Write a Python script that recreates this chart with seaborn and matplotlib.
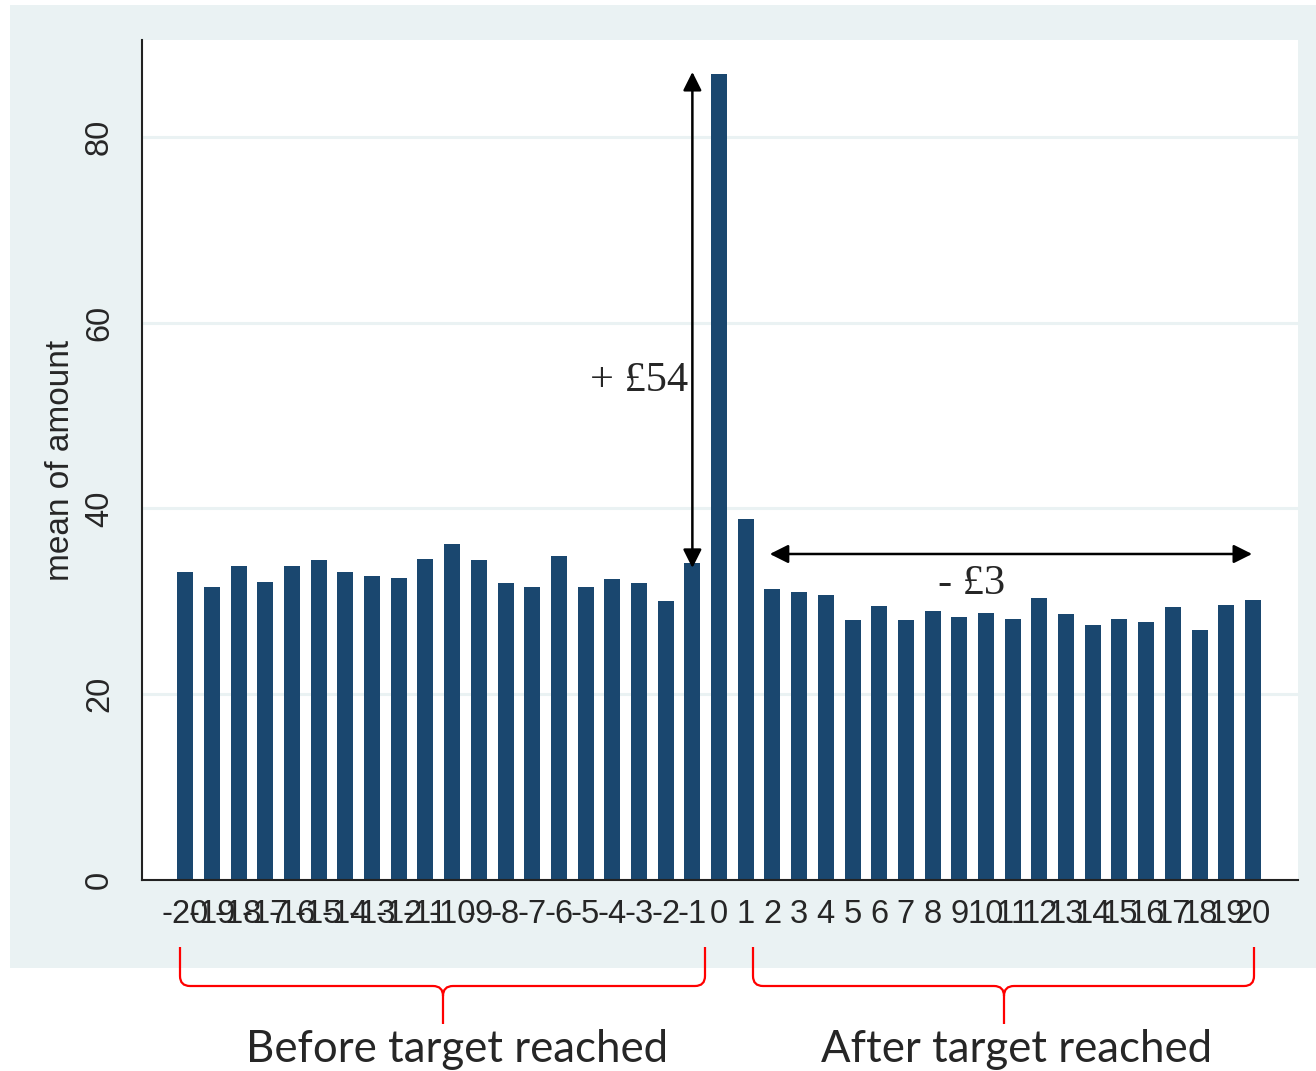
import pandas as pd
import matplotlib.pyplot as plt
import seaborn as sns
from matplotlib.patches import Rectangle, PathPatch
from matplotlib.path import Path

# mean donation by period relative to the target being reached
periods = list(range(-20, 21))
mean_amount = [33.2, 31.5, 33.8, 32.1, 33.8, 34.4, 33.2, 32.7, 32.5, 34.6,
               36.2, 34.4, 32.0, 31.5, 34.9, 31.6, 32.4, 32.0, 30.0, 34.1,
               86.8,
               38.9, 31.3, 31.0, 30.7, 28.0, 29.5, 28.0, 29.0, 28.3, 28.7,
               28.1, 30.4, 28.6, 27.5, 28.1, 27.8, 29.4, 26.9, 29.6, 30.2]
y_ticks = [0, 20, 40, 60, 80]
jump_label = "+ £54"
drop_label = "- £3"
group_labels = ["Before target reached", "After target reached"]

W, H = 1316, 1071
BAR = "#1A476F"
BG = "#EAF2F3"

sns.set_style("white")
plt.rcParams['font.family'] = ['Liberation Sans', 'DejaVu Sans']


def fx(px):
    return px / W


def fy(py):
    return 1 - py / H


fig = plt.figure(figsize=(W / 100, H / 100), dpi=100)
fig.patch.set_facecolor("white")

# stata-like graph region
fig.add_artist(Rectangle((fx(10), fy(968)), fx(1316) - fx(10), fy(5) - fy(968),
                         transform=fig.transFigure, facecolor=BG,
                         edgecolor="none", zorder=-1))

ax = fig.add_axes([fx(142), fy(880), fx(1298) - fx(142), fy(40) - fy(880)])
df = pd.DataFrame({"period": periods, "amount": mean_amount})
sns.barplot(data=df, x="period", y="amount", color=BAR, saturation=1,
            width=0.6, errorbar=None, edgecolor="none", ax=ax)

ax.set_xlim(-1.62, 41.69)
ax.set_ylim(0, 90.44)
ax.set_yticks(y_ticks)
ax.set_yticklabels([str(t) for t in y_ticks], rotation=90, va="center")
ax.yaxis.grid(True, color=BG, linewidth=2.2)
ax.set_axisbelow(True)
for s in ["top", "right"]:
    ax.spines[s].set_visible(False)
for s in ["left", "bottom"]:
    ax.spines[s].set_color("#222222")
    ax.spines[s].set_linewidth(1.5)
ax.tick_params(axis="y", length=9.5, width=1.5, pad=10, labelsize=23.5,
               color="#222222")
ax.tick_params(axis="x", length=0, pad=14, labelsize=23.5)
ax.set_xlabel("")
ax.set_ylabel("mean of amount", fontsize=24, labelpad=6)

# annotations
arrow = dict(arrowstyle="<|-|>", color="black", lw=1.8, mutation_scale=28,
             shrinkA=0, shrinkB=0)
ax.annotate("", xy=(19, 87.0), xytext=(19, 33.6), arrowprops=arrow)
ax.text(18.83, 53.8, jump_label, ha="right", va="center", fontsize=30.5,
        family="Liberation Serif")
ax.annotate("", xy=(39.97, 35.1), xytext=(21.9, 35.1), arrowprops=arrow)
ax.text(29.46, 31.9, drop_label, ha="center", va="center", fontsize=30.5,
        family="Liberation Serif")


# red braces under the axis
def brace(x0, x1, xm, ytop=947, yh=986, ytip=1024, r=10):
    verts = [(x0, ytop), (x0, yh - r), (x0, yh), (x0 + r, yh),
             (xm - r, yh), (xm, yh), (xm, yh + r), (xm, ytip),
             (x1, ytop), (x1, yh - r), (x1, yh), (x1 - r, yh),
             (xm + r, yh), (xm, yh), (xm, yh + r)]
    codes = [Path.MOVETO, Path.LINETO, Path.CURVE3, Path.CURVE3,
             Path.LINETO, Path.CURVE3, Path.CURVE3, Path.LINETO,
             Path.MOVETO, Path.LINETO, Path.CURVE3, Path.CURVE3,
             Path.LINETO, Path.CURVE3, Path.CURVE3]
    verts = [(fx(a), fy(b)) for a, b in verts]
    fig.add_artist(PathPatch(Path(verts, codes), transform=fig.transFigure,
                             facecolor="none", edgecolor="red", lw=1.6))


brace(180, 705, 443)
brace(753, 1254, 1004)
fig.text(fx(457), fy(1062), group_labels[0], ha="center", va="baseline",
         fontsize=31.5, family="Lato")
fig.text(fx(1017), fy(1062), group_labels[1], ha="center", va="baseline",
         fontsize=31.5, family="Lato")

fig.savefig("out.png", dpi=100)
